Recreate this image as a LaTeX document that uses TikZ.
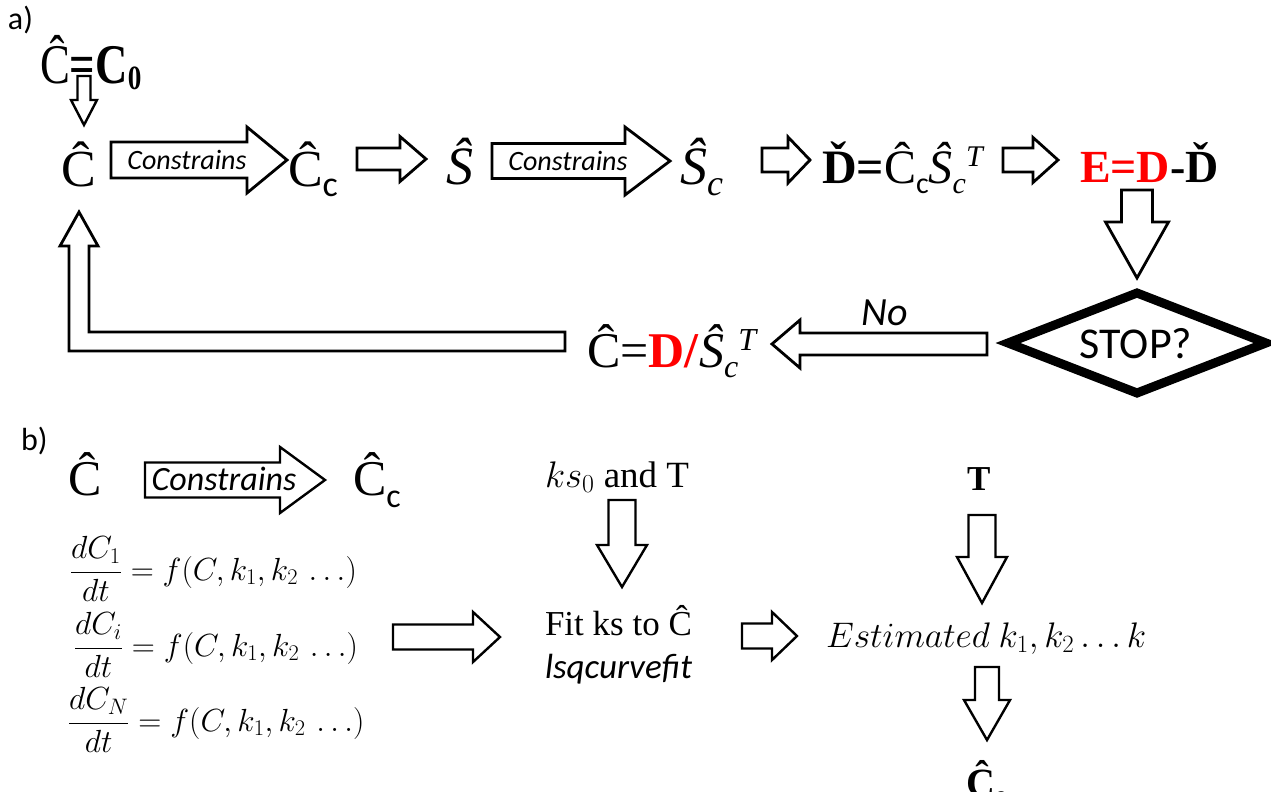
\RequirePackage{fix-cm}
\documentclass[tikz,border=0pt]{standalone}
\usepackage{fontspec}
\setmainfont{Liberation Serif}
\newfontfamily\calib{Carlito}
\newcommand\fs[1]{\fontsize{#1}{#1}\selectfont}
% right block arrow: tail x, tip x, y, body half, head half, head length
\newcommand\rarr[7][]{\draw[blk,#1] ({#2},{#4-#5}) -- ({#3-#7},{#4-#5}) -- ({#3-#7},{#4-#6}) -- ({#3},{#4}) -- ({#3-#7},{#4+#6}) -- ({#3-#7},{#4+#5}) -- ({#2},{#4+#5}) -- cycle;}
% left block arrow: tail x (right), tip x (left), y, body half, head half, head length
\newcommand\larr[7][]{\draw[blk,#1] ({#2},{#4-#5}) -- ({#3+#7},{#4-#5}) -- ({#3+#7},{#4-#6}) -- ({#3},{#4}) -- ({#3+#7},{#4+#6}) -- ({#3+#7},{#4+#5}) -- ({#2},{#4+#5}) -- cycle;}
% down block arrow: x, tail y, tip y, body half, head half, head length
\newcommand\darr[7][]{\draw[blk,#1] ({#2-#5},{#3}) -- ({#2-#5},{#4-#7}) -- ({#2-#6},{#4-#7}) -- ({#2},{#4}) -- ({#2+#6},{#4-#7}) -- ({#2+#5},{#4-#7}) -- ({#2+#5},{#3}) -- cycle;}
\begin{document}
\begin{tikzpicture}[x=1pt,y=-1pt,
  blk/.style={draw=black, line width=2.8pt, fill=white, line join=miter},
  thinblk/.style={line width=2.4pt},
  txt/.style={inner sep=0pt, outer sep=0pt, anchor=base west}]
\useasboundingbox (0,0) rectangle (1271,792);

%% ---------- part a ----------
\node[txt] (la) at (8,30) {\calib\fs{32}a)};
\node[txt, xscale=0.8] (c0) at (40,83) {\fs{56}Ĉ\textbf{=C}\raisebox{-6pt}{\fs{34}\textbf{0}}};
\darr[thinblk]{84}{76}{125}{6.5}{13}{25}

\node[txt] (c1) at (61,186) {\fs{52}Ĉ};
\rarr{111}{287}{160}{18}{33}{40}
\node[anchor=base, inner sep=0pt] (con1) at (187,169) {\calib\itshape\fs{28}Constrains};

\node[txt] (cc) at (288,186) {\fs{52}Ĉ\raisebox{-10pt}{\calib\fs{36}c}};
\rarr{357}{426}{159}{11}{22.5}{26}
\node[txt] (s1) at (446,184) {\itshape\fs{54}Ŝ};
\rarr{492}{670}{161}{17.5}{34}{45}
\node[anchor=base, inner sep=0pt] (con2) at (568,170) {\calib\itshape\fs{28}Constrains};
\node[txt] (sc) at (680,184) {\itshape\fs{54}Ŝ\raisebox{-11pt}{\fs{36}c}};
\rarr{762}{810}{160}{12}{23}{22}
\node[txt] (dd) at (822,183) {\fs{48}\textbf{Ď=}Ĉ\raisebox{-10pt}{\calib\fs{30}c}\textit{Ŝ}\raisebox{-10pt}{\itshape\fs{30}c}\raisebox{17pt}{\itshape\fs{30}T}};
\rarr{1003}{1058}{160}{12}{22.5}{25}
\node[txt] (ee) at (1080,182) {\bfseries\fs{46}\textcolor{red}{E=D}-Ď};
\darr{1137}{190}{278}{15.5}{31.5}{56}

\draw[line width=9pt, line join=miter, miter limit=20] (1137,293) -- (1266,343) -- (1137,393) -- (1008,343) -- cycle;
\node[anchor=base, inner sep=0pt] (stop) at (1136,358) {\calib\fs{44}STOP?};

\larr{987}{772}{344}{11}{24}{28}
\node[anchor=base, inner sep=0pt] (no) at (885,325) {\calib\itshape\fs{40}No};
\node[txt] (cd) at (587,367) {\fs{50}Ĉ=\textcolor{red}{\textbf{D/}}\textit{Ŝ}\raisebox{-10pt}{\itshape\fs{32}c}\raisebox{17pt}{\itshape\fs{32}T}};

\draw[blk] (565,332) -- (89,332) -- (89,246) -- (98,246) -- (79,212) -- (60,246) -- (69,246) -- (69,351) -- (565,351) -- cycle;

%% ---------- part b ----------
\node[txt] (lb) at (21,450) {\calib\fs{32}b)};
\node[txt] (b1) at (68,495) {\fs{50}Ĉ};
\rarr[thinblk]{145}{325}{480}{17.5}{33}{45}
\node[anchor=base, inner sep=0pt] (con3) at (224,490) {\calib\itshape\fs{34}Constrains};
\node[txt] (b2) at (353,495) {\fs{50}Ĉ\raisebox{-12pt}{\calib\fs{34}c}};

\node[txt] (eq1) at (70,580) {\fs{32}$\displaystyle\frac{dC_1}{dt}=f(C,k_1,k_2\,\ldots)$};
\node[txt] (eq2) at (74,656) {\fs{32}$\displaystyle\frac{dC_i}{dt}=f(C,k_1,k_2\,\ldots)$};
\node[txt] (eq3) at (68,731) {\fs{32}$\displaystyle\frac{dC_N}{dt}=f(C,k_1,k_2\,\ldots)$};

\rarr[thinblk]{393}{500}{637}{12.5}{25}{27}
\node[txt] (ks) at (545,487) {\fs{37}$ks_0$ and T};
\darr[thinblk]{622}{500}{587}{13.5}{25}{42}
\node[txt] (fit) at (545,635) {\fs{35}Fit ks to Ĉ};
\node[txt] (lsq) at (545,678) {\calib\itshape\fs{35}lsqcurvefit};
\rarr[thinblk]{742}{797}{636}{12.5}{24}{25}
\node[txt] (est) at (826,647) {\fs{35.5}$Estimated\ k_1,k_2\ldots k$};
\node[txt] (tb) at (967,490) {\fs{35}\textbf{T}};
\darr[thinblk]{982}{515}{603}{13.5}{25}{46}
\darr[thinblk]{987}{667}{740}{12}{23}{40}
\node[txt] (cb) at (966,796) {\fs{40}\textbf{Ĉ}\raisebox{-8pt}{\calib\bfseries\fs{26}c}};
\end{tikzpicture}
\end{document}
